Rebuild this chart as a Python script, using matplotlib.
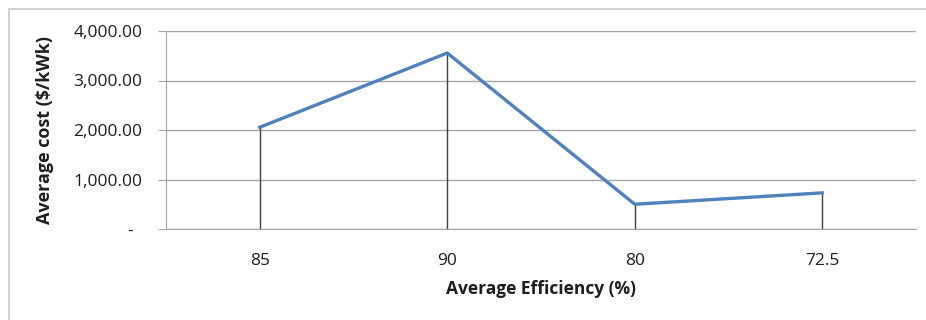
import matplotlib.pyplot as plt
from matplotlib.patches import Rectangle
from matplotlib.ticker import FuncFormatter

# average efficiency categories (as shown, in this order) and average cost
efficiency = ["85", "90", "80", "72.5"]
avg_cost = [2055, 3555, 500, 730]

plt.rcParams['font.family'] = ['Open Sans', 'DejaVu Sans']

fig = plt.figure(figsize=(9.26, 3.2), dpi=100)
# outer chart border (Excel style)
fig.patches.append(Rectangle((9 / 926, -0.1), 1.0, 1 - 9 / 320 + 0.1,
                             transform=fig.transFigure, fill=False,
                             edgecolor='#c8c8c8', linewidth=1.2))

ax = fig.add_axes([166 / 926, 91 / 320, 750 / 926, 198 / 320])
x = list(range(len(efficiency)))

ax.set_ylim(0, 4000)
ax.set_xlim(-0.5, len(efficiency) - 0.5)
ax.set_yticks([0, 1000, 2000, 3000, 4000])
ax.yaxis.set_major_formatter(FuncFormatter(lambda v, p: '-  ' if v == 0 else f'{v:,.2f}'))
ax.set_xticks(x)
ax.set_xticklabels(efficiency)

ax.grid(axis='y', color='#a6a6a6', linewidth=1.0)
ax.set_axisbelow(True)
for s in ['top', 'right']:
    ax.spines[s].set_visible(False)
ax.spines['left'].set_color('#a6a6a6')
ax.spines['bottom'].set_color('#a6a6a6')
ax.tick_params(axis='y', length=6, color='#a6a6a6', labelsize=12.5, pad=11, labelcolor='#1e1e1e')
ax.tick_params(axis='x', length=0, labelsize=12.5, pad=17, labelcolor='#1e1e1e')

# drop lines
ax.vlines(x, 0, avg_cost, colors='#404040', linewidth=1.0, zorder=2)
ax.plot(x, avg_cost, color='#4f81bd', linewidth=2.4, zorder=3, solid_joinstyle='miter')

ax.set_ylabel('Average cost ($/kWk)', fontsize=13, fontweight='bold', color='#1e1e1e', va='center')
ax.yaxis.set_label_coords((45 - 166) / 750, 0.5)
ax.set_xlabel('Average Efficiency (%)', fontsize=12.5, fontweight='bold', color='#1e1e1e', va='center')
ax.xaxis.set_label_coords(0.5, (229 - 289) / 198)

fig.savefig('out.png', dpi=100)
